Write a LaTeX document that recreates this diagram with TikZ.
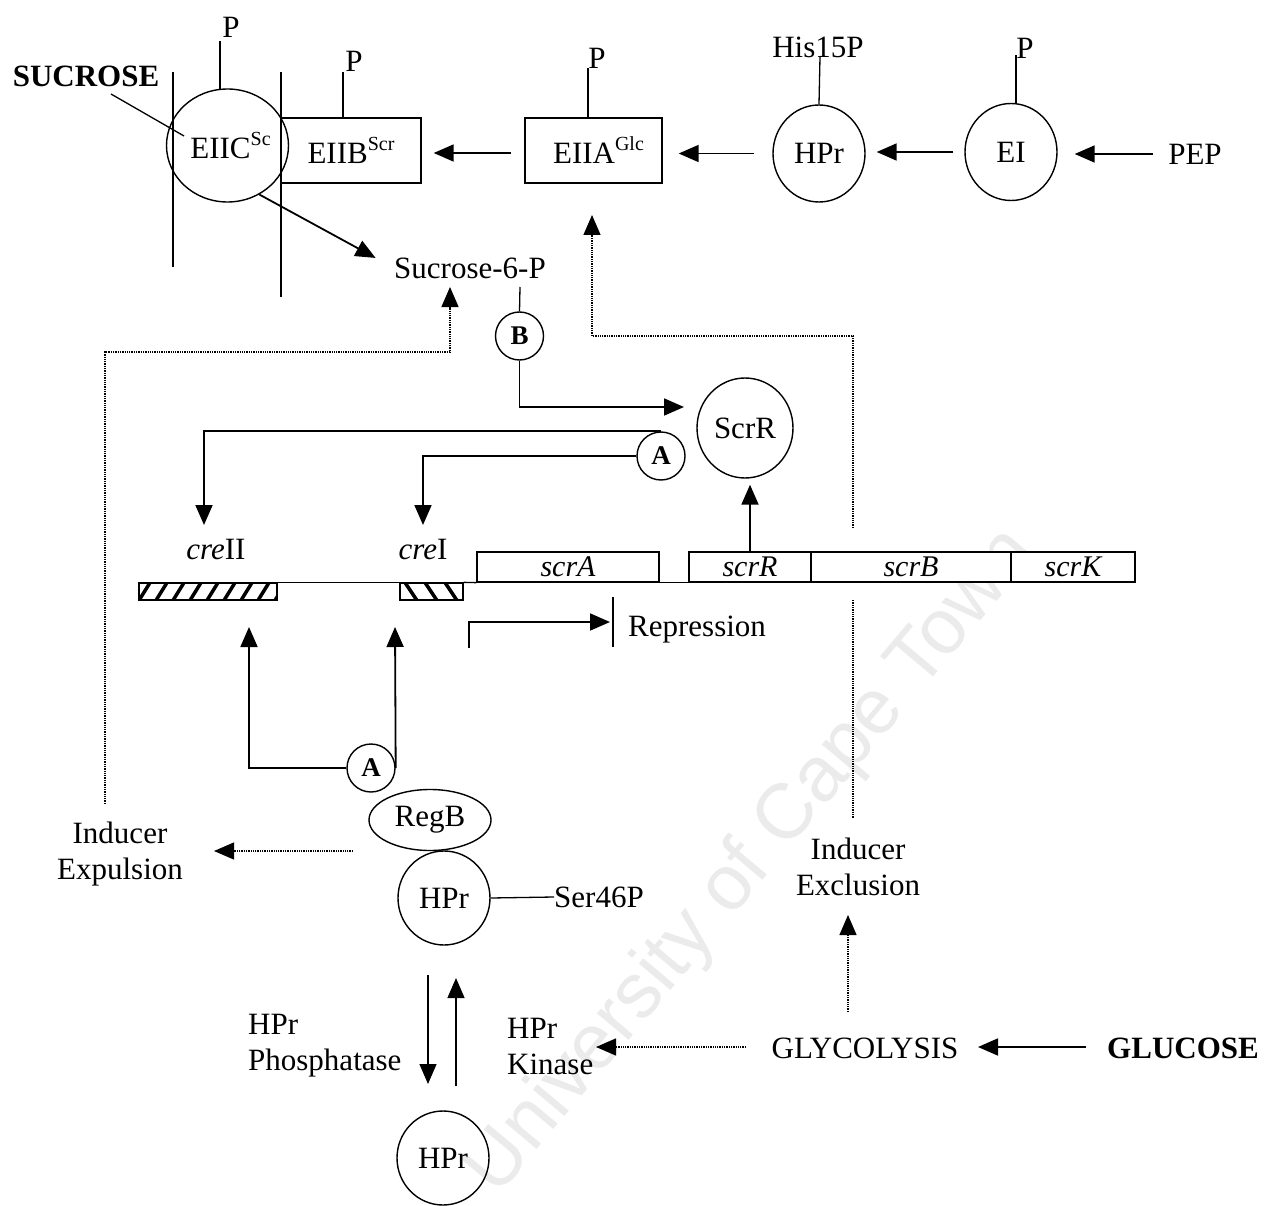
\documentclass[tikz,border=0pt]{standalone}
\usepackage{fontspec}
\setmainfont{Liberation Serif}
\newfontfamily\wmfont{Liberation Sans}
\usetikzlibrary{arrows.meta,shapes.geometric}
\newcommand{\mysup}[1]{\raisebox{0.42em}{\fontsize{20}{20}\selectfont #1}}
\tikzset{
  txt/.style={inner sep=0pt, font=\fontsize{31}{36}\selectfont, align=center},
  ell/.style={draw, ellipse, line width=1.4pt, inner sep=0pt, font=\fontsize{31}{36}\selectfont},
  boxn/.style={draw, rectangle, line width=1.4pt, inner sep=0pt, font=\fontsize{31}{36}\selectfont},
  geneb/.style={draw, rectangle, line width=1.3pt, inner sep=0pt, minimum height=30pt, fill=white, font=\fontsize{30}{30}\selectfont\itshape},
  lett/.style={draw, circle, line width=1.4pt, minimum size=48pt, inner sep=0pt, font=\fontsize{27}{27}\selectfont\bfseries},
  arr/.style={line width=1.8pt, -{Triangle[length=20pt,width=17pt]}},
  tarr/.style={line width=1.2pt, -{Triangle[length=20pt,width=17pt]}},
  thinln/.style={line width=1.3pt},
  dotarr/.style={line width=1.3pt, densely dotted, -{Triangle[length=20pt,width=17pt]}},
  dotln/.style={line width=1.3pt, densely dotted},
}
\begin{document}
\begin{tikzpicture}[x=1pt,y=-1pt]
\useasboundingbox (0,0) rectangle (1266,1206);
\fill[white] (0,0) rectangle (1266,1206);
% watermark
\node[rotate=50, text=black!8, font=\wmfont\fontsize{78}{78}\selectfont, inner sep=0pt] (wm) at (752,862) {University of Cape Town};

% ---------- top row ----------
\node[txt, font=\fontsize{31}{36}\selectfont\bfseries] (sucrose) at (86,76) {SUCROSE};
\draw[thinln] (173,72) -- (173,267);
\draw[thinln] (281,72) -- (281,297);
\node[ell, minimum width=105pt, minimum height=113pt] (eiic) at (227.5,145.5) {\hspace{6pt}EIIC\mysup{Sc}};
\node[txt] (p1) at (231,27) {P};
\draw[thinln] (220,41) -- (220,90);
\draw[thinln] (111,94) -- (184,136);

\node[boxn, minimum width=140pt, minimum height=65pt] (eiib) at (351,150.5) {EIIB\mysup{Scr}};
\node[txt] (p2) at (354,61) {P};
\draw[thinln] (343,72) -- (343,118);

\node[boxn, minimum width=137pt, minimum height=65pt] (eiia) at (593.5,150.5) {\hspace{10pt}EIIA\mysup{Glc}};
\node[txt] (p3) at (597,58) {P};
\draw[thinln] (588,68) -- (588,118);

\node[ell, minimum width=92pt, minimum height=97pt] (hpr1) at (819,153.5) {HPr};
\node[txt] (his) at (818,47) {His15P};
\draw[thinln] (820,57) -- (hpr1.north);

\node[ell, minimum width=92pt, minimum height=97pt] (ei) at (1011,152) {EI};
\node[txt] (p4) at (1025,48) {P};
\draw[thinln] (1016,55) -- (1016,103);

\node[txt] (pep) at (1195,154) {PEP};

\draw[arr, shorten <=15pt, shorten >=17pt] (pep.west) -- (ei.east |- pep.west);
\draw[arr, shorten <=11pt, shorten >=11pt] (ei.west) -- (hpr1.east |- ei.west);
\draw[arr, shorten <=18pt, shorten >=16pt] (hpr1.west) -- (eiia.east |- hpr1.west);
\draw[arr, shorten <=13pt, shorten >=12pt] (eiia.west |- 0,153) -- (eiib.east |- 0,153);

\node[txt] (s6p) at (470,268) {Sucrose-6-P};
\draw[arr, shorten >=21pt] (eiic.-57) -- (s6p.west);

% ---------- middle ----------
\node[lett] (bc) at (519.5,336) {B};
\draw[thinln] (520,287) -- (bc.north);
\draw[arr] (bc.south) |- (684,407);

\node[ell, minimum width=96pt, minimum height=100pt] (scrR) at (745,428) {ScrR};

\node[lett] (aup) at (661,456) {A};
\draw[arr] (aup.north) -| (204,525);
\draw[arr] (aup.west) -| (423,525);

\draw[dotarr] (105,804) |- (450,352) -- (450,287);
\draw[dotarr] (853,528) |- (592,336) -- (592,215);
\draw[dotln] (853,600) -- (853,818);

% ---------- genes ----------
\node[txt] (creII) at (216,549) {\textit{cre}II};
\node[txt] (creI) at (423,549) {\textit{cre}I};
\node[draw, line width=1.3pt, minimum width=138pt, minimum height=17pt, inner sep=0pt] (creIIbox) at (208,591.5) {};
\node[draw, line width=1.3pt, minimum width=63pt, minimum height=17pt, inner sep=0pt] (creIbox) at (431.5,591.5) {};
\begin{scope}
\clip (139,583) rectangle (277,600);
\foreach \x in {138,155,...,285} \draw[line width=3.5pt] (\x,602) -- (\x+13,581);
\end{scope}
\begin{scope}
\clip (400,583) rectangle (463,600);
\foreach \x in {404,424,444} \draw[line width=3.5pt] (\x,581) -- (\x+14,602);
\end{scope}

\node[geneb, minimum width=182pt] (scrA) at (568,567) {scrA};
\node[geneb, minimum width=122pt] (scrRg) at (750,567) {scrR};
\node[geneb, minimum width=200pt] (scrB) at (911,567) {scrB};
\node[geneb, minimum width=124pt] (scrK) at (1073,567) {scrK};
\draw[thinln] (creIIbox.north east) -- (creIbox.north west);
\draw[thinln] (creIbox.north east) -- (scrA.south west);
\draw[thinln] (scrA.south east) -- (scrRg.south west);
\draw[arr, shorten >=6pt] (scrRg.north) -- (scrRg.north |- scrR.south);

\coordinate (prom) at (469,648);
\draw[arr] (prom) |- (610,622);
\draw[thinln] (613,597) -- (613,647);
\node[txt, anchor=west] (repr) at (628,630) {Repression};

% ---------- lower ----------
\node[lett] (adn) at (371,768) {A};
\draw[arr] (adn.west) -| (249,627);
\draw[arr] (adn.east) -- (395,627);

\node[ell, minimum width=122pt, minimum height=61pt] (regb) at (430,820) {RegB};
\node[ell, minimum width=92pt, minimum height=94pt] (hpr2) at (444,898) {HPr};
\node[txt, anchor=west] (ser) at (554,897) {Ser46P};
\draw[thinln] (hpr2.east) -- (ser.west);

\node[txt] (indexp) at (120,854) {Inducer\\Expulsion};
\draw[dotarr] (353,851) -- (214,851);

\node[ell, minimum width=92pt, minimum height=94pt] (hpr3) at (443,1158) {HPr};
\draw[tarr] (428,975) -- (428,1084);
\draw[tarr] (456,1086) -- (456,978);
\node[txt, anchor=west, align=left] (phos) at (248,1046) {HPr\\Phosphatase};
\node[txt, anchor=west, align=left] (kin) at (507,1046) {HPr\\Kinase};

\node[txt] (glyc) at (865,1048) {GLYCOLYSIS};
\node[txt, font=\fontsize{31}{36}\selectfont\bfseries] (gluc) at (1183,1048) {GLUCOSE};
\node[txt] (indexc) at (858,867) {Inducer\\Exclusion};
\draw[arr] (1086,1047) -- (978,1047);
\draw[dotarr] (746,1047) -- (596,1047);
\draw[dotarr] (848,1012) -- (848,915);
\end{tikzpicture}
\end{document}
